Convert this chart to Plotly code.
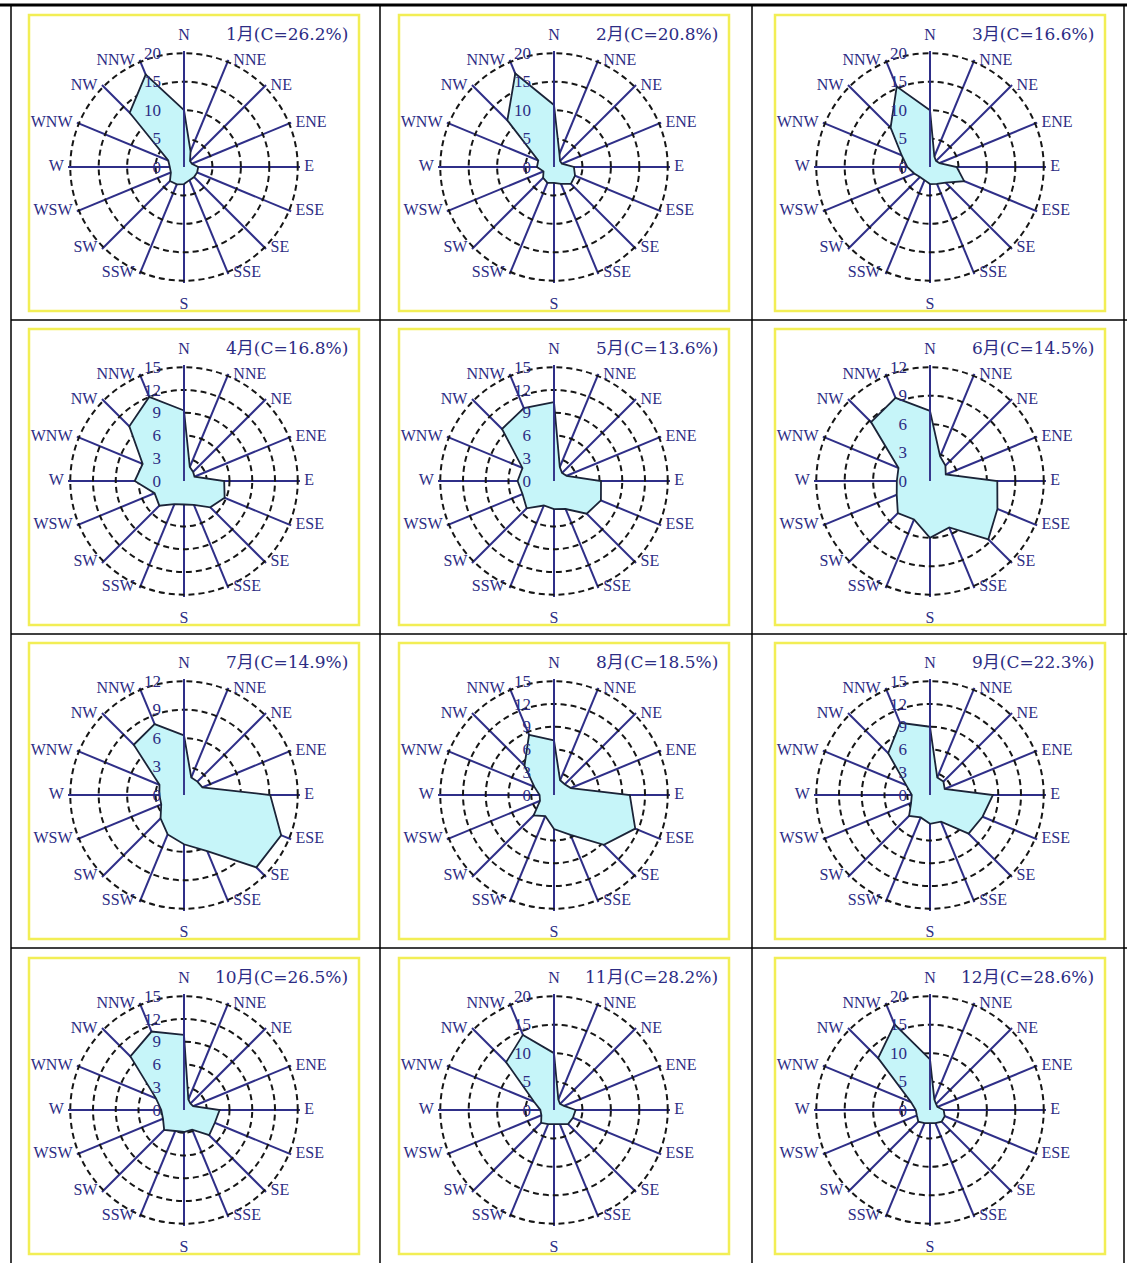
import plotly.graph_objects as go

# ---------------- data ----------------
directions = ["N", "NNE", "NE", "ENE", "E", "ESE", "SE", "SSE",
              "S", "SSW", "SW", "WSW", "W", "WNW", "NW", "NNW"]
month_names = ["1月", "2月", "3月", "4月", "5月", "6月",
               "7月", "8月", "9月", "10月", "11月", "12月"]
calm_pct = [26.2, 20.8, 16.6, 16.8, 13.6, 14.5, 14.9, 18.5, 22.3, 26.5, 28.2, 28.6]

freq_jan = [10.0, 3.0, 1.5, 1.5, 2.5, 2.5, 2.5, 2.5, 3.0, 3.3, 3.5, 2.5, 2.5, 3.0, 13.5, 17.6]
freq_feb = [10.9, 2.5, 1.5, 1.5, 3.5, 4.0, 4.2, 3.2, 2.8, 3.0, 2.7, 2.0, 3.0, 3.0, 11.6, 17.8]
freq_mar = [10.0, 2.0, 1.5, 1.8, 4.7, 6.5, 3.9, 3.2, 3.0, 2.5, 2.5, 3.0, 4.0, 5.4, 9.8, 15.3]
freq_apr = [9.3, 2.0, 1.7, 1.5, 5.3, 5.8, 4.9, 3.4, 3.1, 3.3, 4.6, 4.2, 6.5, 5.9, 10.2, 12.0]
freq_may = [10.4, 2.0, 1.5, 1.8, 6.2, 6.7, 6.1, 4.0, 3.7, 3.5, 5.1, 4.5, 4.8, 4.5, 9.7, 10.4]
freq_jun = [7.4, 2.8, 2.3, 1.8, 7.1, 7.7, 8.7, 5.3, 6.0, 4.4, 4.8, 3.8, 3.5, 3.6, 8.8, 9.5]
freq_jul = [6.3, 2.0, 2.0, 2.1, 9.1, 11.1, 10.8, 6.4, 5.2, 4.5, 3.5, 2.6, 2.6, 2.8, 7.5, 8.1]
freq_aug = [7.2, 2.1, 2.0, 2.4, 10.0, 11.6, 9.3, 5.7, 4.5, 3.0, 3.8, 2.0, 1.9, 2.8, 5.5, 8.6]
freq_sep = [9.0, 2.5, 2.5, 2.1, 8.3, 7.5, 7.2, 3.8, 3.8, 3.2, 3.9, 2.7, 2.4, 3.4, 7.8, 10.3]
freq_oct = [9.9, 1.5, 1.2, 1.3, 4.7, 4.4, 4.7, 2.8, 2.9, 3.0, 3.7, 3.0, 3.0, 4.0, 10.0, 11.2]
freq_nov = [10.0, 2.0, 1.5, 1.9, 3.8, 3.6, 3.5, 2.7, 2.5, 2.7, 3.2, 2.4, 2.4, 3.8, 11.9, 14.3]
freq_dec = [8.9, 2.0, 1.5, 1.4, 2.4, 2.8, 2.9, 2.5, 2.3, 2.5, 2.9, 2.5, 2.5, 3.6, 12.9, 16.3]

radial_max = [20, 20, 20, 15, 15, 12, 12, 15, 15, 15, 20, 20]
radial_step = [5, 5, 5, 3, 3, 3, 3, 3, 3, 3, 5, 5]

all_freq = [freq_jan, freq_feb, freq_mar, freq_apr, freq_may, freq_jun,
            freq_jul, freq_aug, freq_sep, freq_oct, freq_nov, freq_dec]

# ---------------- layout helpers ----------------
W, H = 1127, 1263
col_cx = [184, 554, 930]
row_cy = [167, 481, 795, 1110]
R = 116
RANGE_PAD = 1.02
LABEL_R = 1.01

NAVY = "#2f2f88"
TEXT = "#2c2c84"
SERIF = "Liberation Serif, Noto Sans CJK SC, serif"
TITLE_FONT = "DejaVu Serif, Noto Sans CJK SC, serif"

# where each direction label sits relative to the end of its spoke
label_pos = []
label_gap = []   # size of the invisible anchor marker (sets the text offset)
for d in directions:
    if d == "N":
        label_pos.append("top center"); label_gap.append(11)
    elif d == "S":
        label_pos.append("bottom center"); label_gap.append(22)
    elif d in ("NNE", "NE", "ENE", "E", "ESE", "SE", "SSE"):
        label_pos.append("middle right"); label_gap.append(7)
    else:
        label_pos.append("middle left"); label_gap.append(7)


def px(x):
    return x / W


def py(y):
    return 1 - y / H


fig = go.Figure()
layout_polars = {}
shapes = []
annotations = []

for i in range(12):
    r, c = divmod(i, 3)
    cx, cy = col_cx[c], row_cy[r]
    key = "polar" if i == 0 else f"polar{i + 1}"
    vals = all_freq[i]
    fig.add_trace(go.Scatterpolar(
        r=vals + [vals[0]],
        theta=directions + [directions[0]],
        mode="lines",
        fill="toself",
        fillcolor="#c6f5f9",
        line=dict(color="#1b2438", width=1.8),
        subplot=key,
        showlegend=False,
        hoverinfo="skip",
    ))
    # direction labels at the spoke ends
    fig.add_trace(go.Scatterpolar(
        r=[radial_max[i] * LABEL_R] * len(directions),
        theta=directions,
        mode="markers+text",
        marker=dict(size=label_gap, color="rgba(0,0,0,0)", line=dict(width=0)),
        text=directions,
        textposition=label_pos,
        textfont=dict(family=SERIF, size=16, color=TEXT),
        cliponaxis=False,
        subplot=key,
        showlegend=False,
        hoverinfo="skip",
    ))
    layout_polars[key] = dict(
        domain=dict(x=[px(cx - R), px(cx + R)], y=[py(cy + R), py(cy - R)]),
        bgcolor="white",
        angularaxis=dict(
            direction="clockwise",
            rotation=90,
            categoryorder="array",
            categoryarray=directions,
            showline=False,
            showgrid=True,
            gridcolor=NAVY,
            gridwidth=1.9,
            ticks="",
            showticklabels=False,
            layer="above traces",
        ),
        radialaxis=dict(
            range=[0, radial_max[i] * RANGE_PAD],
            tickvals=list(range(0, radial_max[i] + 1, radial_step[i])),
            angle=90,
            tickangle=90,
            side="counterclockwise",
            showline=True,
            linecolor=NAVY,
            linewidth=1.9,
            showgrid=True,
            gridcolor="#161616",
            gridwidth=1.5,
            griddash="6px,4px",
            ticks="outside",
            ticklen=16,
            tickcolor="rgba(0,0,0,0)",
            tickfont=dict(family=SERIF, size=17, color=TEXT),
            layer="above traces",
        ),
    )
    # yellow frame of each panel
    shapes.append(dict(
        type="rect", xref="paper", yref="paper",
        x0=px(cx - 155), x1=px(cx + 175), y0=py(cy + 144), y1=py(cy - 152),
        line=dict(color="#f2ee55", width=2.5), layer="below",
    ))
    annotations.append(dict(
        x=px(cx + 166), y=py(cy - 133), xref="paper", yref="paper",
        xanchor="right", yanchor="middle", showarrow=False,
        text=f"{month_names[i]}(C={calm_pct[i]}%)",
        font=dict(family=TITLE_FONT, size=17, color=TEXT),
    ))

# table grid lines
for x in [11, 380, 752, 1124]:
    shapes.append(dict(type="line", xref="paper", yref="paper",
                       x0=px(x), x1=px(x), y0=py(H), y1=py(6),
                       line=dict(color="black", width=1.5)))
for y in [320, 634, 948]:
    shapes.append(dict(type="line", xref="paper", yref="paper",
                       x0=px(11), x1=px(W), y0=py(y), y1=py(y),
                       line=dict(color="black", width=1.5)))
shapes.append(dict(type="line", xref="paper", yref="paper",
                   x0=px(0), x1=px(W), y0=py(5), y1=py(5),
                   line=dict(color="black", width=3)))

fig.update_layout(
    width=W, height=H,
    margin=dict(l=0, r=0, t=0, b=0),
    paper_bgcolor="white",
    plot_bgcolor="white",
    shapes=shapes,
    annotations=annotations,
    showlegend=False,
    **layout_polars,
)

fig.write_html("out.html", config={"displayModeBar": False},
               post_script="document.body.style.margin='0px';")
